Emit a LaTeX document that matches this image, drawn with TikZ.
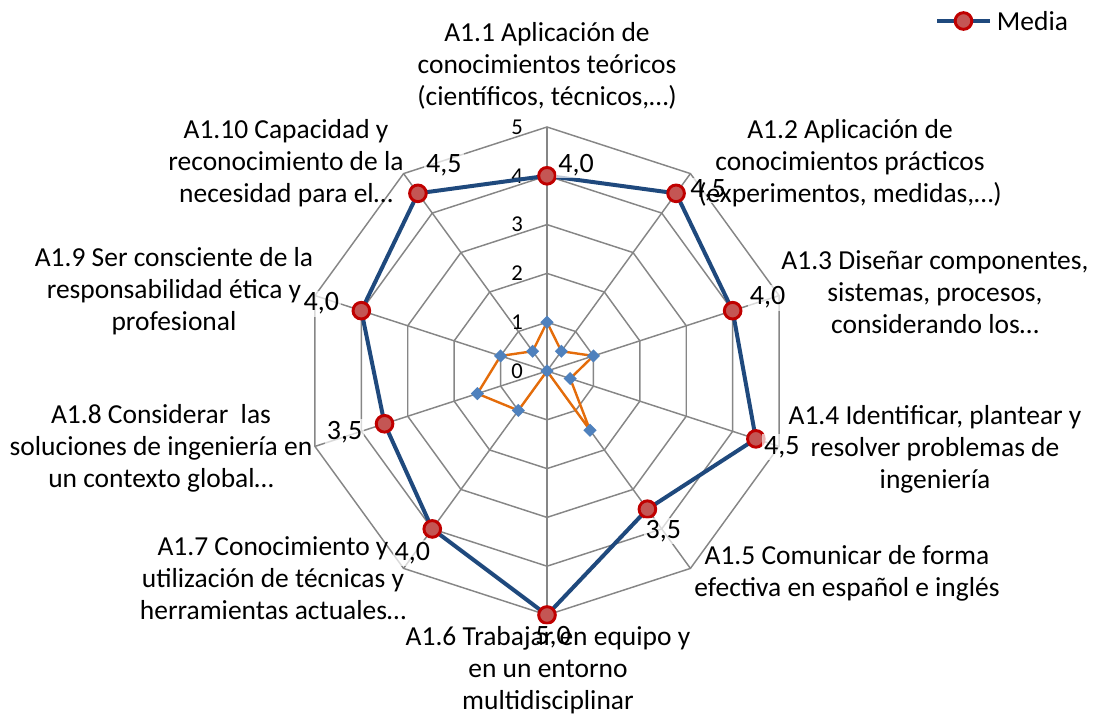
\documentclass[tikz,border=0pt]{standalone}
\usepackage{fontspec}
\setmainfont{Carlito}
\usetikzlibrary{calc,positioning,shapes.geometric}

\definecolor{mediaBlue}{RGB}{31,73,125}
\definecolor{ringRed}{RGB}{192,0,0}
\definecolor{dotRed}{RGB}{196,86,84}
\definecolor{serieOrange}{RGB}{228,108,10}
\definecolor{serieBlue}{RGB}{79,129,189}
\definecolor{gridGray}{RGB}{134,134,134}

\tikzset{
	radarline/.style={draw=gridGray, line width=1.1pt},
	medialine/.style={draw=mediaBlue, line width=3pt, line join=round},
	mediadot/.style={circle, draw=ringRed, fill=dotRed, line width=2.2pt, minimum size=12.5pt, inner sep=0pt},
	serieline/.style={draw=serieOrange, line width=1.8pt, line join=round},
	seriedot/.style={diamond, fill=serieBlue, minimum width=10pt, minimum height=10pt, inner sep=0pt},
	catlabel/.style={align=center, inner sep=1pt, font=\fontsize{20.6}{24}\selectfont},
	vallabel/.style={fill=white, fill opacity=0.7, text opacity=1, inner sep=1.5pt, font=\fontsize{21}{24}\selectfont},
	ticklabel/.style={inner sep=1pt, font=\fontsize{17}{20}\selectfont}
}

\begin{document}
\begin{tikzpicture}[x=0.75pt, y=0.75pt]
	\useasboundingbox (-547,-350) rectangle (548,371);
	\coordinate (O) at (0,0);
	\foreach \i in {1,...,10}
		\foreach \l in {1,...,5}
			\coordinate (g\l-\i) at ({90-36*(\i-1)}:{48.8*\l});
	\foreach \i in {1,...,10} \draw[radarline] (O) -- (g5-\i);
	\foreach \l in {1,...,5}
		\draw[radarline] (g\l-1) -- (g\l-2) -- (g\l-3) -- (g\l-4) -- (g\l-5) -- (g\l-6) -- (g\l-7) -- (g\l-8) -- (g\l-9) -- (g\l-10) -- cycle;
	\foreach \l in {0,...,5} \node[ticklabel] (t\l) at ($(O)+(-30,{48.8*\l})$) {\l};

	\foreach \v [count=\i] in {1.0,0.5,1.0,0.5,1.5,0,1.0,1.5,1.0,0.5}
		\coordinate (s\i) at ({90-36*(\i-1)}:{48.8*\v});
	\draw[serieline] (s1) -- (s2) -- (s3) -- (s4) -- (s5) -- (s6) -- (s7) -- (s8) -- (s9) -- (s10) -- cycle;
	\foreach \i in {1,...,10} \node[seriedot] (d\i) at (s\i) {};

	\foreach \v [count=\i] in {4.0,4.5,4.0,4.5,3.5,5.0,4.0,3.5,4.0,4.5}
		\coordinate (p\i) at ({90-36*(\i-1)}:{48.8*\v});
	\draw[medialine] (p1) -- (p2) -- (p3) -- (p4) -- (p5) -- (p6) -- (p7) -- (p8) -- (p9) -- (p10) -- cycle;
	\foreach \i in {1,...,10} \node[mediadot] (m\i) at (p\i) {};
	\foreach \i/\dx/\dy/\t in {1/29/11/{4,0},2/32/3/{4,5},3/35/13/{4,0},4/26/-8/{4,5},5/16/-22/{3,5},6/6/-22/{5,0},7/-20/-24/{4,0},8/-40/-8/{3,5},9/-40/7/{4,0},10/26/28/{4,5}}
		\node[vallabel] (v\i) at ($(p\i)+(\dx,\dy)$) {\t};

	\node[catlabel] (c1) at (0,305) {A1.1 Aplicación de\\conocimientos teóricos\\(científicos, técnicos,…)};
	\node[catlabel] (c2) at (303,208) {A1.2 Aplicación de\\conocimientos prácticos\\(experimentos, medidas,…)};
	\node[catlabel] (c3) at (388,79) {A1.3 Diseñar componentes,\\sistemas, procesos,\\considerando los…};
	\node[catlabel] (c4) at (388,-78) {A1.4 Identificar, plantear y\\resolver problemas de\\ingeniería};
	\node[catlabel] (c5) at (300,-202) {A1.5 Comunicar de forma\\efectiva en español e inglés};
	\node[catlabel] (c6) at (1,-299) {A1.6 Trabajar en equipo y\\en un entorno\\multidisciplinar};
	\node[catlabel] (c7) at (-274,-207) {A1.7 Conocimiento y\\utilización de técnicas y\\herramientas actuales…};
	\node[catlabel] (c8) at (-386,-77) {A1.8 Considerar\ \ las\\soluciones de ingeniería en\\un contexto global…};
	\node[catlabel] (c9) at (-373,80) {A1.9 Ser consciente de la\\responsabilidad ética y\\profesional};
	\node[catlabel] (c10) at (-261,208) {A1.10 Capacidad y\\reconocimiento de la\\necesidad para el…};

	\coordinate (lgA) at (390,350);
	\coordinate (lgB) at (443,350);
	\draw[medialine] (lgA) -- (lgB);
	\node[mediadot] (lgM) at ($(lgA)!0.5!(lgB)$) {};
	\node[catlabel, right=4pt of lgB] (lgT) {Media};
\end{tikzpicture}
\end{document}
